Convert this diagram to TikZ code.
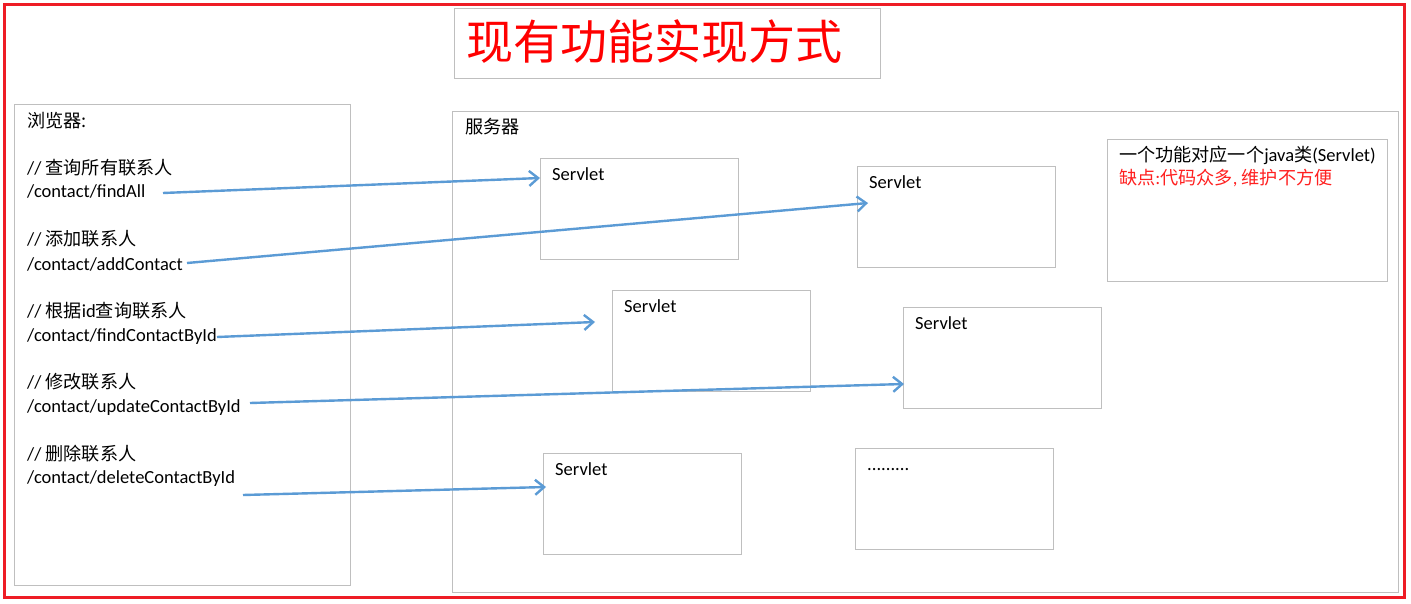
\documentclass[tikz,border=0pt]{standalone}
\usepackage{fontspec}
\setmainfont{Carlito}
\newfontfamily\cjk{Noto Sans CJK SC}[Scale=0.98]
\usetikzlibrary{arrows.meta,calc}
\definecolor{frame}{HTML}{EE1C25}
\definecolor{boxgray}{HTML}{BFBFBF}
\definecolor{arrblue}{HTML}{5B9BD5}
\definecolor{txtred}{HTML}{FF2020}
\tikzset{
  box/.style={draw=boxgray, line width=1.1pt, fill=none, inner sep=0pt, anchor=north west},
  lbl/.style={inner sep=0pt, anchor=base west, font=\fontsize{18.5}{21}\selectfont},
  arr/.style={draw=arrblue, line width=2.4pt, -{Straight Barb[length=9pt,width=15pt]}}
}
\begin{document}
\begin{tikzpicture}[x=1pt,y=-1pt]
\useasboundingbox (0,0) rectangle (1411,604);
\fill[white] (0,0) rectangle (1411,604);
% outer red frame
\draw[frame, line width=3pt] (4.5,4.5) rectangle (1404,597);
% title
\node[box, minimum width=426pt, minimum height=70pt] (title) at (454,8) {};
\node[inner sep=0pt, anchor=base west, text=red, font=\cjk\fontsize{48}{52}\selectfont] (titletext) at (466,60) {现有功能实现方式};
% browser panel
\node[box, minimum width=336pt, minimum height=481pt] (browser) at (14,104) {};
\node[lbl] (bt) at (27,128) {\cjk 浏览器:};
\node[lbl] (c1) at (27,175) {// {\cjk 查询所有联系人}};
\node[lbl] (p1) at (27,198) {/contact/findAll};
\node[lbl] (c2) at (27,246) {// {\cjk 添加联系人}};
\node[lbl] (p2) at (27,270) {/contact/addContact};
\node[lbl] (c3) at (27,317) {// {\cjk 根据}id{\cjk 查询联系人}};
\node[lbl] (p3) at (27,341) {/contact/findContactById};
\node[lbl] (c4) at (27,388) {// {\cjk 修改联系人}};
\node[lbl] (p4) at (27,412) {/contact/updateContactById};
\node[lbl] (c5) at (27,460) {// {\cjk 删除联系人}};
\node[lbl] (p5) at (27,483) {/contact/deleteContactById};
% server panel
\node[box, minimum width=946pt, minimum height=481pt] (server) at (452,111) {};
\node[lbl] (st) at (465,134) {\cjk 服务器};
% servlet boxes
\node[box, minimum width=198pt, minimum height=101pt] (s1) at (540,158) {};
\node[box, minimum width=198pt, minimum height=101pt] (s2) at (857,166) {};
\node[box, minimum width=198pt, minimum height=101pt] (s3) at (612,290) {};
\node[box, minimum width=198pt, minimum height=101pt] (s4) at (903,307) {};
\node[box, minimum width=198pt, minimum height=101pt] (s5) at (543,453) {};
\node[box, minimum width=198pt, minimum height=101pt] (s6) at (855,448) {};
\foreach \b in {s1,s2,s3,s4,s5}{
  \node[lbl] (\b t) at ($(\b.north west)+(12,22.5)$) {Servlet};
}
\node[lbl] (s6t) at ($(s6.north west)+(12,22)$) {.........};
% note box
\node[box, minimum width=280pt, minimum height=142pt] (note) at (1107,139) {};
\node[lbl] (n1) at (1119,162) {{\cjk 一个功能对应一个}java{\cjk 类}(Servlet)};
\node[lbl, text=txtred] (n2) at (1119,185) {{\cjk 缺点}:{\cjk 代码众多}, {\cjk 维护不方便}};
% connectors
\coordinate (a1) at (163,193);
\coordinate (a2) at (187,263);
\coordinate (a3) at (217,337);
\coordinate (a4) at (250,403);
\coordinate (a5) at (243,495);
\coordinate (e1) at ($(s1.north west)+(0,20)$);
\coordinate (e2) at ($(s2.north west)+(11,37)$);
\coordinate (e3) at ($(s3.north west)+(-17,32)$);
\coordinate (e4) at ($(s4.north west)+(1,77)$);
\coordinate (e5) at ($(s5.north west)+(3,34)$);
\draw[arr] (a1) -- (e1);
\draw[arr] (a2) -- (e2);
\draw[arr] (a3) -- (e3);
\draw[arr] (a4) -- (e4);
\draw[arr] (a5) -- (e5);
\end{tikzpicture}
\end{document}
